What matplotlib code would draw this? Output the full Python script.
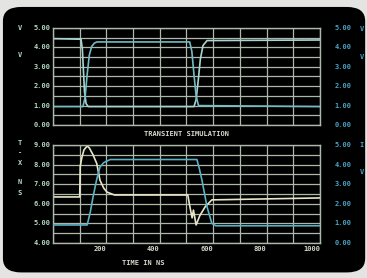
import matplotlib
matplotlib.use("Agg")
import matplotlib.pyplot as plt
from matplotlib.patches import FancyBboxPatch

# ─── data ────────────────────────────────────────────────────────────────────
# upper panel: input / output of the gate (volts, 0-5)
top_in_t = [0, 105, 110, 114, 118, 124, 132, 528, 536, 544, 552, 562, 577, 1000]
top_in_v = [4.45, 4.42, 3.9, 2.8, 1.7, 1.1, 0.95, 0.95, 1.3, 2.3, 3.4, 4.1, 4.35, 4.38]

top_out_t = [0, 112, 120, 128, 136, 145, 155, 165, 512, 520, 528, 536, 545, 1000]
top_out_v = [0.95, 0.95, 1.4, 2.6, 3.6, 4.05, 4.22, 4.28, 4.28, 3.8, 2.6, 1.5, 1.0, 0.95]

# lower panel: current trace (left scale 4-9) and voltage trace (right scale 0-5)
bot_i_t = [0, 100, 102, 108, 116, 122, 128, 136, 150, 164, 176, 190, 202, 230,
           505, 512, 521, 526, 536, 550, 570, 595, 1000]
bot_i_v = [6.35, 6.35, 7.9, 8.35, 8.75, 8.85, 8.95, 8.85, 8.5, 8.05, 7.2, 6.8,
           6.6, 6.45, 6.45, 5.9, 5.28, 5.68, 4.92, 5.4, 5.85, 6.2, 6.3]

bot_v_t = [0, 128, 140, 150, 163, 176, 190, 202, 215, 539, 548, 558, 577, 595, 610, 1000]
bot_v_v = [0.92, 0.92, 1.6, 2.35, 3.2, 3.88, 4.1, 4.18, 4.26, 4.26, 3.8, 3.2, 1.84, 1.0, 0.88, 0.88]

x_ticks = [200, 400, 600, 800, 1000]
top_yticks = [0, 1, 2, 3, 4, 5]
bot_yticks = [4, 5, 6, 7, 8, 9]

# ─── style ───────────────────────────────────────────────────────────────────
GRID = "#aeb8aa"
LEFT_LBL = "#b4dcc4"
RIGHT_LBL = "#4aa4c4"
TXT = "#d8d8cc"
FONT = dict(family="DejaVu Sans Mono", weight="bold", size=5)

fig = plt.figure(figsize=(3.67, 2.78), dpi=100, facecolor="#e4e4e2")
# the CRT screen itself
fig.patches.append(FancyBboxPatch((0.008, 0.02), 0.987, 0.955,
                                  boxstyle="round,pad=0,rounding_size=0.05",
                                  transform=fig.transFigure, facecolor="black",
                                  edgecolor="none", zorder=-10))


def style_axes(ax, ylo, yhi, yticks, color):
    ax.set_facecolor("none")
    ax.set_xlim(0, 1000)
    ax.set_ylim(ylo, yhi)
    ax.set_xticks(range(0, 1001, 100))
    ax.set_yticks([ylo + 0.5 * k for k in range(11)])
    ax.grid(True, color=GRID, linewidth=0.9)
    ax.tick_params(length=0, labelbottom=False, labelleft=False)
    for s in ax.spines.values():
        s.set_color(GRID)
        s.set_linewidth(1.0)
    # labelled ticks as text so the grid can stay at half steps
    for v in yticks:
        ax.text(-0.008, v, f"{v:.2f}", transform=ax.get_yaxis_transform(),
                ha="right", va="center", color=color, **FONT)


def right_labels(ax, yticks, ylo):
    for v in yticks:
        ax.text(1.055, ylo + (v - yticks[0]), f"{v:.2f}",
                transform=ax.get_yaxis_transform(), ha="left", va="center",
                color=RIGHT_LBL, **FONT)


# upper panel
ax1 = fig.add_axes([0.1444, 0.5504, 0.7275, 0.349])
style_axes(ax1, 0, 5, top_yticks, LEFT_LBL)
right_labels(ax1, top_yticks, 0)
ax1.plot(top_in_t, top_in_v, color="#a6d6d2", lw=1.2)
ax1.plot(top_out_t, top_out_v, color="#72bcc4", lw=1.2)

# lower panel
ax2 = fig.add_axes([0.1444, 0.1259, 0.7275, 0.3525])
style_axes(ax2, 4, 9, bot_yticks, LEFT_LBL)
right_labels(ax2, top_yticks, 4)
ax2.plot(bot_i_t, bot_i_v, color="#e8e6c8", lw=1.2)
ax2r = ax2.twinx()
ax2r.set_ylim(0, 5)
ax2r.axis("off")
ax2r.plot(bot_v_t, bot_v_v, color="#5ab2c2", lw=1.2)

for t in x_ticks:
    ax2.text(t, -0.035, str(t), transform=ax2.get_xaxis_transform(),
             ha="right", va="top", color=TXT, **FONT)

# side letters and titles
for y, s in [(28, "V"), (55, "V")]:
    fig.text(20 / 367, 1 - y / 278, s, ha="center", va="center", color=LEFT_LBL, **FONT)
for y, s in [(29, "V"), (57, "V")]:
    fig.text(362 / 367, 1 - y / 278, s, ha="center", va="center", color=RIGHT_LBL, **FONT)
for y, s in [(143, "T"), (153, "-"), (163, "X"), (182, "N"), (193, "S")]:
    fig.text(20 / 367, 1 - y / 278, s, ha="center", va="center", color=LEFT_LBL, **FONT)
for y, s in [(145, "I"), (172, "V")]:
    fig.text(362 / 367, 1 - y / 278, s, ha="center", va="center", color=RIGHT_LBL, **FONT)

fig.text(187 / 367, 1 - 134 / 278, "TRANSIENT SIMULATION", ha="center",
         va="center", color=TXT, **FONT)
fig.text(143 / 367, 1 - 263 / 278, "TIME IN NS", ha="center", va="center",
         color=TXT, **FONT)

plt.savefig("out.png", dpi=100, facecolor=fig.get_facecolor())
print("Saved: out.png")
